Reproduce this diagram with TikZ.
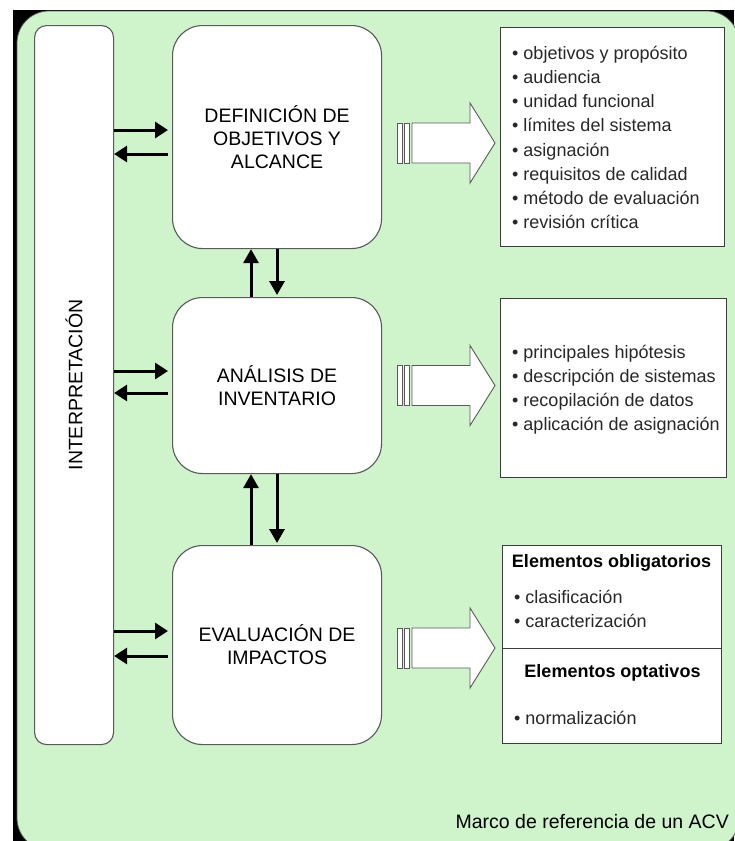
\documentclass[tikz,border=0pt]{standalone}
\usepackage{fontspec}
\setmainfont{Liberation Sans}
\usetikzlibrary{arrows.meta}
\definecolor{bggreen}{RGB}{207,243,202}
\definecolor{boxline}{RGB}{90,90,90}
\definecolor{listline}{RGB}{60,60,60}
\definecolor{txtgray}{RGB}{40,40,40}
\tikzset{
  roundbox/.style={draw=boxline, line width=1.1pt, fill=white, rounded corners=30pt,
    inner sep=0pt, anchor=north west, align=center, font=\fontsize{19.5}{23}\selectfont},
  listbox/.style={draw=listline, line width=1pt, fill=white, inner sep=0pt, anchor=north west},
  listtext/.style={anchor=west, inner sep=0pt, align=left, text=txtgray,
    font=\fontsize{18}{24.15}\selectfont},
  harrow/.style={line width=3pt, -{Triangle[length=13pt,width=16pt]}},
  varrow/.style={line width=3pt, -{Triangle[length=14pt,width=15pt]}},
  hollow/.pic={
    \draw[draw=boxline, fill=white, line width=0.9pt] (0,-20) rectangle (5,20);
    \draw[draw=boxline, fill=white, line width=0.9pt] (7,-20) rectangle (12,20);
    \draw[draw=boxline, fill=white, line width=0.9pt, line join=miter]
      (15,-20) -- (73,-20) -- (73,-40) -- (98,0) -- (73,40) -- (73,20) -- (15,20) -- cycle;
  }
}
\begin{document}
\begin{tikzpicture}[x=1pt,y=-1pt]
\useasboundingbox (0,0) rectangle (734,841);
% frame
\fill[black] (13,10) rectangle (734,841);
\draw[fill=bggreen, draw=boxline, line width=0.8pt, rounded corners=32pt] (17,11) rectangle (739,850);

% interpretation column
\node[roundbox, rounded corners=12pt, minimum width=79pt, minimum height=719pt] (interp) at (34,25) {};
\node[rotate=90, font=\fontsize{19.5}{23}\selectfont] (interplabel) at (74,385) {INTERPRETACIÓN};

% phase boxes
\node[roundbox, minimum width=209pt, minimum height=223pt] (def) at (172,25)
  {DEFINICIÓN DE\\OBJETIVOS Y\\ALCANCE};
\node[roundbox, minimum width=209pt, minimum height=176pt] (inv) at (172,297)
  {ANÁLISIS DE\\INVENTARIO};
\node[roundbox, minimum width=209pt, minimum height=199pt] (eva) at (172,545)
  {EVALUACIÓN DE\\IMPACTOS};

% levels
\coordinate (r1) at (0,130);
\coordinate (l1) at (0,154);
\coordinate (r2) at (0,371);
\coordinate (l2) at (0,393);
\coordinate (r3) at (0,631);
\coordinate (l3) at (0,656);
\coordinate (xa) at (251,0);
\coordinate (xb) at (277,0);

% horizontal arrows
\draw[harrow, shorten >=4pt] (interp.east |- r1) -- (def.west |- r1);
\draw[harrow, shorten <=4pt] (def.west |- l1) -- (interp.east |- l1);
\draw[harrow, shorten >=4pt] (interp.east |- r2) -- (inv.west |- r2);
\draw[harrow, shorten <=4pt] (inv.west |- l2) -- (interp.east |- l2);
\draw[harrow, shorten >=4pt] (interp.east |- r3) -- (eva.west |- r3);
\draw[harrow, shorten <=4pt] (eva.west |- l3) -- (interp.east |- l3);

% vertical arrows
\draw[varrow] (inv.north -| xa) -- (def.south -| xa);
\draw[varrow, shorten >=2pt] (def.south -| xb) -- (inv.north -| xb);
\draw[varrow] (eva.north -| xa) -- (inv.south -| xa);
\draw[varrow, shorten >=2pt] (inv.south -| xb) -- (eva.north -| xb);

% hollow arrows
\pic at (397,143) {hollow};
\pic at (397,385.5) {hollow};
\pic at (397,648) {hollow};

% list boxes
\node[listbox, minimum width=224pt, minimum height=219pt] (list1) at (500,27) {};
\node[listbox, minimum width=226pt, minimum height=179pt] (list2) at (500,298) {};
\node[listbox, minimum width=219pt, minimum height=198pt] (list3) at (502,545) {};

\node[listtext] (t1) at (512,137.5) {• objetivos y propósito\\• audiencia\\• unidad funcional\\• límites del sistema\\• asignación\\• requisitos de calidad\\• método de evaluación\\• revisión crítica};
\node[listtext] (t2) at (512,390) {• principales hipótesis\\• descripción de sistemas\\• recopilación de datos\\• aplicación de asignación};

\node[font=\bfseries\fontsize{18}{22}\selectfont, inner sep=0pt] (ob) at (611.5,563) {Elementos obligatorios};
\node[listtext] (t3) at (514,609) {• clasificación\\• caracterización};
\draw[draw=listline, line width=1pt] (list3.west |- 0,648) -- (list3.east |- 0,648);
\node[font=\bfseries\fontsize{18}{22}\selectfont, inner sep=0pt] (op) at (612.5,673) {Elementos optativos};
\node[listtext] (t4) at (514,718) {• normalización};

% caption
\node[anchor=east, inner sep=0pt, font=\fontsize{19.5}{23}\selectfont] (cap) at (729,822) {Marco de referencia de un ACV};
\end{tikzpicture}
\end{document}
